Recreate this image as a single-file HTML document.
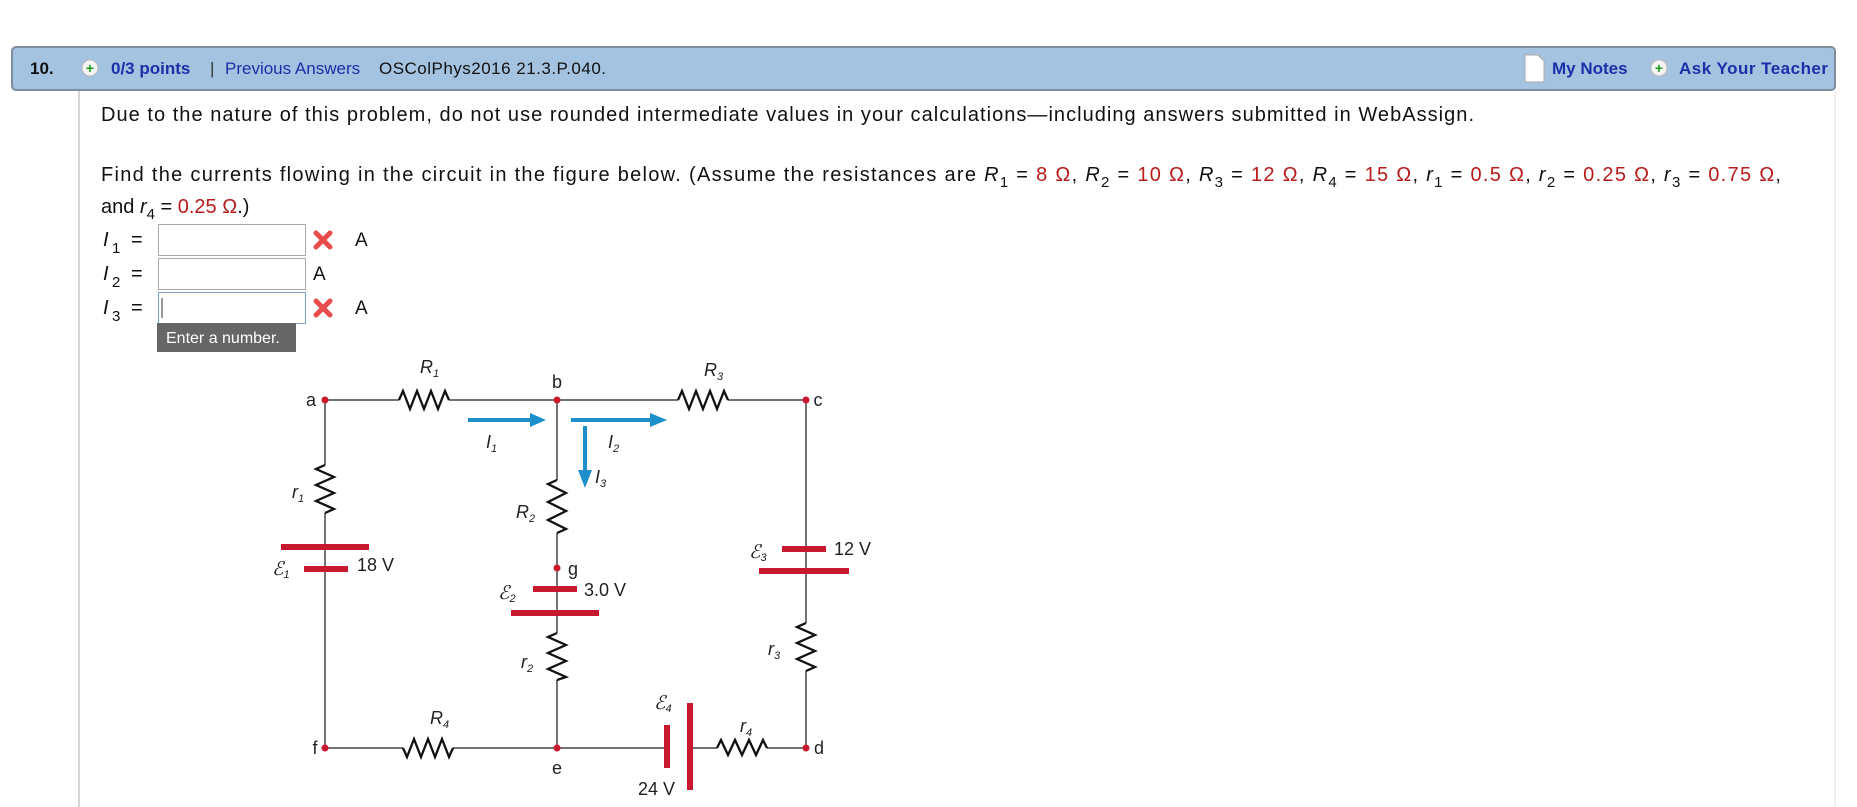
<!DOCTYPE html>
<html><head><meta charset="utf-8"><style>
html,body{margin:0;padding:0;background:#fff;}
svg{display:block;}
text{font-family:"Liberation Sans",Arial,sans-serif;}
</style></head><body>
<svg width="1857" height="807" viewBox="0 0 1857 807" xmlns="http://www.w3.org/2000/svg">
<rect x="12" y="47" width="1823" height="43" rx="4" fill="#a3c3e0" stroke="#7f8e9c" stroke-width="2"/>
<line x1="79" y1="91" x2="79" y2="807" stroke="#c8c8c8" stroke-width="1.5"/>
<line x1="1835" y1="91" x2="1835" y2="807" stroke="#e0e0e0" stroke-width="1"/>
<text x="30" y="74" font-size="17" font-weight="bold" fill="#111">10.</text>
<circle cx="90" cy="68" r="8" fill="#f4f4f4" stroke="#bbb"/>
<text x="90" y="73" font-size="14" font-weight="bold" fill="#1a9a1a" text-anchor="middle">+</text>
<text x="111" y="74" font-size="17" font-weight="bold" fill="#1b2fa8">0/3 points</text>
<text x="210" y="74" font-size="17" fill="#333">|</text>
<text x="225" y="74" font-size="17" fill="#1b2fa8">Previous Answers</text>
<text x="379" y="74" font-size="17" fill="#111" textLength="227">OSColPhys2016 21.3.P.040.</text>
<path d="M1525 55 h13 l6 6 v21 h-19 z" fill="#fff" stroke="#aaa"/>
<text x="1552" y="74" font-size="17" font-weight="bold" fill="#1b2fa8">My Notes</text>
<circle cx="1659" cy="68" r="8" fill="#f4f4f4" stroke="#bbb"/>
<text x="1659" y="73" font-size="14" font-weight="bold" fill="#1a9a1a" text-anchor="middle">+</text>
<text x="1679" y="74" font-size="17" font-weight="bold" fill="#1b2fa8" textLength="149">Ask Your Teacher</text>

<text x="101" y="121" font-size="20" fill="#111" textLength="1373">Due to the nature of this problem, do not use rounded intermediate values in your calculations—including answers submitted in WebAssign.</text>
<text x="101" y="181" font-size="20" fill="#111" textLength="1680">Find the currents flowing in the circuit in the figure below. (Assume the resistances are <tspan font-style="italic">R</tspan><tspan font-size="15" dy="6">1</tspan><tspan dy="-6"> = </tspan><tspan fill="#b81c1c">8 Ω</tspan>, <tspan font-style="italic">R</tspan><tspan font-size="15" dy="6">2</tspan><tspan dy="-6"> = </tspan><tspan fill="#b81c1c">10 Ω</tspan>, <tspan font-style="italic">R</tspan><tspan font-size="15" dy="6">3</tspan><tspan dy="-6"> = </tspan><tspan fill="#b81c1c">12 Ω</tspan>, <tspan font-style="italic">R</tspan><tspan font-size="15" dy="6">4</tspan><tspan dy="-6"> = </tspan><tspan fill="#b81c1c">15 Ω</tspan>, <tspan font-style="italic">r</tspan><tspan font-size="15" dy="6">1</tspan><tspan dy="-6"> = </tspan><tspan fill="#b81c1c">0.5 Ω</tspan>, <tspan font-style="italic">r</tspan><tspan font-size="15" dy="6">2</tspan><tspan dy="-6"> = </tspan><tspan fill="#b81c1c">0.25 Ω</tspan>, <tspan font-style="italic">r</tspan><tspan font-size="15" dy="6">3</tspan><tspan dy="-6"> = </tspan><tspan fill="#b81c1c">0.75 Ω</tspan>,</text>
<text x="101" y="213" font-size="20" fill="#111">and <tspan font-style="italic">r</tspan><tspan font-size="15" dy="6">4</tspan><tspan dy="-6"> = </tspan><tspan fill="#b81c1c">0.25 Ω</tspan>.)</text>

<g font-size="20" fill="#111">
<text x="103" y="246" font-style="italic" font-family="Liberation Serif">I</text><text x="112" y="253" font-size="15">1</text><text x="131" y="246">=</text>
<text x="103" y="280" font-style="italic" font-family="Liberation Serif">I</text><text x="112" y="287" font-size="15">2</text><text x="131" y="280">=</text>
<text x="103" y="314" font-style="italic" font-family="Liberation Serif">I</text><text x="112" y="321" font-size="15">3</text><text x="131" y="314">=</text>
</g>
<rect x="158.5" y="224.5" width="147" height="31" fill="#fff" stroke="#aaa"/>
<rect x="158.5" y="258.5" width="147" height="31" fill="#fff" stroke="#aaa"/>
<rect x="158.5" y="292.5" width="147" height="31" fill="#fff" stroke="#7da2ce"/>
<line x1="162" y1="298" x2="162" y2="318" stroke="#333"/>
<g stroke="#e84c4c" stroke-width="5" stroke-linecap="round">
<line x1="316" y1="233" x2="330" y2="247"/><line x1="330" y1="233" x2="316" y2="247"/>
<line x1="316" y1="301" x2="330" y2="315"/><line x1="330" y1="301" x2="316" y2="315"/>
</g>
<text x="355" y="246" font-size="19" fill="#111">A</text>
<text x="313" y="280" font-size="19" fill="#111">A</text>
<text x="355" y="314" font-size="19" fill="#111">A</text>
<rect x="157" y="323" width="139" height="29" fill="#666"/>
<text x="166" y="343" font-size="16" fill="#fff">Enter a number.</text>

<g stroke="#444" stroke-width="1.5" fill="none">
<path d="M325 400 H399 M449 400 H678 M728 400 H806"/>
<path d="M325 400 V465 M325 513 V748"/>
<path d="M557 400 V480 M557 533 V633 M557 680 V748"/>
<path d="M806 400 V623 M806 671 V748"/>
<path d="M325 748 H403 M453 748 H667 M690 748 H717 M767 748 H806"/>
</g>
<g stroke="#111" stroke-width="2.3" fill="none" stroke-linejoin="miter">
<path d="M399 400 l4 -9 l7 18 l7 -18 l7 18 l7 -18 l7 18 l7 -18 l4 9"/>
<path d="M678 400 l4 -9 l7 18 l7 -18 l7 18 l7 -18 l7 18 l7 -18 l4 9"/>
<path d="M325 465 l-9 4 l18 8 l-18 8 l18 8 l-18 8 l18 8 l-9 4"/>
<path d="M557 480 l-9 4 l18 9 l-18 9 l18 9 l-18 9 l18 9 l-9 4"/>
<path d="M557 633 l-9 4 l18 8 l-18 8 l18 8 l-18 8 l18 8 l-9 3"/>
<path d="M806 623 l-9 4 l18 8 l-18 8 l18 8 l-18 8 l18 8 l-9 4"/>
<path d="M403 748 l4 9 l7 -18 l7 18 l7 -18 l7 18 l7 -18 l7 18 l4 -9"/>
<path d="M717 748 l4 -8 l7 15 l7 -15 l7 15 l7 -15 l7 15 l7 -15 l4 8"/>
</g>
<g fill="#c8192e">
<rect x="281" y="544" width="88" height="6"/><rect x="304" y="566" width="44" height="6"/>
<rect x="533" y="586" width="44" height="6"/><rect x="511" y="610" width="88" height="6"/>
<rect x="782" y="546" width="44" height="6"/><rect x="759" y="568" width="90" height="6"/>
<rect x="664" y="725" width="6" height="43"/><rect x="687" y="703" width="6" height="87"/>
<circle cx="325" cy="400" r="3.5"/><circle cx="557" cy="400" r="3.5"/><circle cx="806" cy="400" r="3.5"/>
<circle cx="325" cy="748" r="3.5"/><circle cx="557" cy="748" r="3.5"/><circle cx="806" cy="748" r="3.5"/>
<circle cx="557" cy="568" r="3.5"/>
</g>
<g fill="#1f8fcb" stroke="#1f8fcb">
<line x1="468" y1="420" x2="532" y2="420" stroke-width="4"/><polygon points="530,413 546,420 530,427" stroke="none"/>
<line x1="571" y1="420" x2="652" y2="420" stroke-width="4"/><polygon points="650,413 667,420 650,427" stroke="none"/>
<line x1="585" y1="426" x2="585" y2="472" stroke-width="4"/><polygon points="578,470 585,488 592,470" stroke="none"/>
</g>
<g font-size="18" fill="#222">
<text x="311" y="406" text-anchor="middle">a</text>
<text x="557" y="388" text-anchor="middle">b</text>
<text x="818" y="406" text-anchor="middle">c</text>
<text x="315" y="754" text-anchor="middle">f</text>
<text x="557" y="774" text-anchor="middle">e</text>
<text x="819" y="754" text-anchor="middle">d</text>
<text x="573" y="575" text-anchor="middle">g</text>
<text x="357" y="571">18 V</text>
<text x="584" y="596">3.0 V</text>
<text x="834" y="555">12 V</text>
<text x="638" y="795">24 V</text>
</g>
<g font-size="18" fill="#222" font-style="italic" font-family="Liberation Sans">
<text x="420" y="373">R<tspan font-size="11" dy="4">1</tspan></text>
<text x="704" y="376">R<tspan font-size="11" dy="4">3</tspan></text>
<text x="430" y="724">R<tspan font-size="11" dy="4">4</tspan></text>
<text x="516" y="518">R<tspan font-size="11" dy="4">2</tspan></text>
<text x="292" y="498">r<tspan font-size="11" dy="4">1</tspan></text>
<text x="521" y="668">r<tspan font-size="11" dy="4">2</tspan></text>
<text x="768" y="655">r<tspan font-size="11" dy="4">3</tspan></text>
<text x="740" y="732">r<tspan font-size="11" dy="4">4</tspan></text>
<text x="486" y="448">I<tspan font-size="11" dy="4">1</tspan></text>
<text x="608" y="448">I<tspan font-size="11" dy="4">2</tspan></text>
<text x="595" y="483">I<tspan font-size="11" dy="4">3</tspan></text>
</g>
<g font-size="19" fill="#222" font-style="italic" font-family="Liberation Serif">
<text x="272" y="575">ℰ<tspan font-size="11" dy="3" font-family="Liberation Sans">1</tspan></text>
<text x="498" y="599">ℰ<tspan font-size="11" dy="3" font-family="Liberation Sans">2</tspan></text>
<text x="749" y="558">ℰ<tspan font-size="11" dy="3" font-family="Liberation Sans">3</tspan></text>
<text x="654" y="709">ℰ<tspan font-size="11" dy="3" font-family="Liberation Sans">4</tspan></text>
</g>
</svg>
</body></html>
